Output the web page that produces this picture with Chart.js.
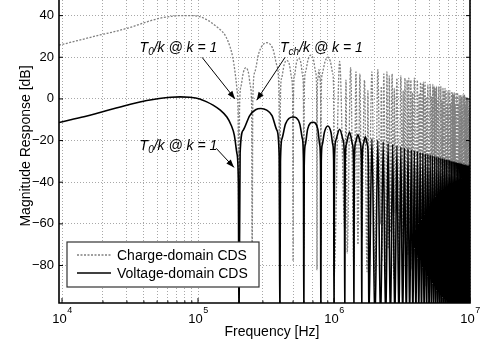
<!DOCTYPE html>
<html>
<head>
<meta charset="utf-8">
<script src="https://cdn.jsdelivr.net/npm/chart.js@4.4.1/dist/chart.umd.min.js"></script>
<style>
  html, body { margin: 0; padding: 0; background: #fff; }
</style>
</head>
<body>
<canvas id="cdsChart" width="481" height="348"></canvas>
<script>
// Frequencies are in kHz, magnitudes in dB

// Voltage-domain CDS: smooth part and the first few lobes
const voltSmoothKHz = [9.5, 12, 15, 19, 25, 33, 42, 52, 63, 74, 87, 103, 115, 129, 145, 163, 175, 185, 193, 198,
    200, 204, 215, 240, 265, 290, 320, 350, 380, 395,
    400, 404, 415, 440, 500, 560, 585, 596,
    600, 604, 615, 640, 700, 760, 785, 796,
    800, 806, 820, 850, 900, 950, 980, 994,
    1000, 1008, 1030, 1100, 1170, 1192,
    1200, 1208, 1230, 1300, 1370, 1392,
    1400, 1410, 1440, 1500, 1560, 1590,
    1600, 1610, 1640, 1700, 1760, 1790];
const voltSmoothDb = [-11.3, -9.8, -8.3, -6.5, -4.4, -2.3, -0.8, 0.2, 0.8, 1.0, 0.8, 0, -1.3, -3, -5.3, -8.7, -12.5, -17.5, -26, -40,
    -110, -26, -15, -8, -5.2, -4.6, -5.4, -8, -15, -27,
    -110, -30, -19, -12, -8.7, -12, -19, -30,
    -110, -32, -22, -14.5, -11.2, -14.5, -22, -32,
    -110, -30, -22, -16, -13, -16, -22, -30,
    -110, -30, -20, -14.6, -20, -30,
    -110, -32, -22, -16, -22, -32,
    -110, -31, -21, -17.2, -21, -31,
    -110, -32, -22, -18.2, -22, -32];

// Voltage-domain CDS: dense lobes (nulls every 200 kHz)
const voltNullKHz = [1800, 2000, 2200, 2400, 2600, 2800, 3000, 3200, 3400, 3600, 3800, 4000, 4200, 4400,
    4600, 4800, 5000, 5200, 5400, 5600, 5800, 6000, 6200, 6400, 6600, 6800, 7000, 7200, 7400, 7600,
    7800, 8000, 8200, 8400, 8600, 8800, 9000, 9200, 9400, 9600, 9800, 10000];
const voltNullDb = -110;
const voltPeakKHz = [1900, 2100, 2300, 2500, 2700, 2900, 3100, 3300, 3500, 3700, 3900, 4100, 4300, 4500,
    4700, 4900, 5100, 5300, 5500, 5700, 5900, 6100, 6300, 6500, 6700, 6900, 7100, 7300, 7500, 7700,
    7900, 8100, 8300, 8500, 8700, 8900, 9100, 9300, 9500, 9700, 9900];
const voltPeakDb = [-19.1, -19.9, -20.6, -21.3, -21.9, -22.5, -23.0, -23.5, -24.0, -24.4,
    -24.8, -25.2, -25.6, -25.9, -26.3, -26.6, -26.9, -27.2, -27.5, -27.8,
    -28.0, -28.3, -28.5, -28.8, -29.0, -29.2, -29.4, -29.7, -29.9, -30.1,
    -30.3, -30.4, -30.6, -30.8, -31.0, -31.2, -31.3, -31.5, -31.7, -31.8, -32.0];

// Charge-domain CDS: smooth part and the first few lobes
const chargeSmoothKHz = [9.5, 13, 19, 25, 33, 42, 52, 63, 74, 87, 103, 120, 135, 150, 160, 172, 180, 187, 193, 197,
    200, 202, 207, 215, 225, 235, 243, 248,
    250, 253, 262, 280, 320, 355, 380, 393,
    400, 404, 412, 430, 450, 470, 488, 496,
    500, 504, 512, 530, 550, 570, 588, 596,
    600, 605, 618, 645, 675, 705, 732, 745,
    750, 753, 762, 775, 788, 797,
    800, 806, 820, 860, 900, 940, 980, 994];
const chargeSmoothDb = [25.8, 28, 30.7, 32.5, 34.7, 37, 38.7, 39.6, 40, 40, 39.5, 37.5, 35, 32.5, 30, 25, 20, 13, 5, -8,
    -75, -5, 6, 12.5, 15, 12.5, 6, -5,
    -80, 0, 13, 22, 27, 24, 16, 5,
    -70, 2, 10, 16.5, 18.5, 16.5, 10, 2,
    -78, 3, 11, 17.5, 19.5, 17.5, 11, 3,
    -72, 4, 13, 19, 21, 19, 13, 4,
    -82, 2, 10, 14, 10, 2,
    -70, 3, 12, 18, 20, 18, 12, 3];

// Charge-domain CDS: dense lobes (nulls at the T0 and Tch harmonics)
const chargeNullKHz = [1000, 1200, 1250, 1400, 1500, 1600, 1750, 1800,
    2000, 2200, 2250, 2400, 2500, 2600, 2750, 2800,
    3000, 3200, 3250, 3400, 3500, 3600, 3750, 3800,
    4000, 4200, 4250, 4400, 4500, 4600, 4750, 4800,
    5000, 5200, 5250, 5400, 5500, 5600, 5750, 5800,
    6000, 6200, 6250, 6400, 6500, 6600, 6750, 6800,
    7000, 7200, 7250, 7400, 7500, 7600, 7750, 7800,
    8000, 8200, 8250, 8400, 8500, 8600, 8750, 8800,
    9000, 9200, 9250, 9400, 9500, 9600, 9750, 9800,
    10000];
const chargeNullDb = [-85, -62, -74, -80, -70, -66, -83, -58,
    -90, -60, -78, -84, -72, -64, -86, -55,
    -80, -66, -70, -88, -75, -60, -82, -62,
    -86, -58, -76, -82, -68, -72, -90, -56,
    -84, -64, -70, -86, -74, -60, -80, -60,
    -88, -62, -78, -84, -70, -66, -86, -58,
    -82, -60, -72, -88, -76, -64, -84, -62,
    -86, -66, -74, -80, -70, -60, -92, -58,
    -90, -62, -78, -86, -72, -66, -94, -60,
    -88];
const chargePeakKHz = [1100, 1225, 1325, 1450, 1550, 1675, 1775, 1900,
    2100, 2225, 2325, 2450, 2550, 2675, 2775, 2900,
    3100, 3225, 3325, 3450, 3550, 3675, 3775, 3900,
    4100, 4225, 4325, 4450, 4550, 4675, 4775, 4900,
    5100, 5225, 5325, 5450, 5550, 5675, 5775, 5900,
    6100, 6225, 6325, 6450, 6550, 6675, 6775, 6900,
    7100, 7225, 7325, 7450, 7550, 7675, 7775, 7900,
    8100, 8225, 8325, 8450, 8550, 8675, 8775, 8900,
    9100, 9225, 9325, 9450, 9550, 9675, 9775, 9900];
const chargePeakDb = [18, 9, 15, 13, 12, 9, 4, 13,
    14, 6, 12, 13, 11, 12, 5, 10,
    11, 4, 10, 9, 10, 9, 3, 10,
    9, 2, 8, 7, 8, 8, 1, 7,
    7, 1, 7, 6, 5, 6, -1, 6,
    6, -1, 5, 4, 5, 4, -2, 4,
    4, -2, 3, 3, 2, 3, -3, 3,
    3, -3, 2, 1, 2, 1, -4, 2,
    2, -4, 1, 0, 1, 0, -5, 0];

// Axis ticks
const xTickExps = [4, 5, 6, 7];
const xMinorMult = [2, 3, 4, 5, 6, 7, 8, 9];
const yTickValues = [-80, -60, -40, -20, 0, 20, 40];

const FONT = '"Liberation Sans", Arial, Helvetica, sans-serif';

// Arrow annotations, anchored in data coordinates (kHz, dB)
const notes = [
    { sub: '0', textKHz: 71.8, textDb: 22.5, align: 'center', tail: [107, 20], tip: [187, 0] },
    { sub: 'ch', textKHz: 401, textDb: 22.5, align: 'left', tail: [437, 20], tip: [270, -0.6] },
    { sub: '0', textKHz: 71.8, textDb: -24.7, align: 'center', tail: [136, -23.7], tip: [184, -32.9] }
];

function toPoints(kHz, db) {
    return kHz.map((f, i) => ({ x: f * 1000, y: db[i] }));
}

// Put nulls and peaks one after another: null, peak, null, peak, ..., null
function lobePoints(nullKHz, nullDb, peakKHz, peakDb) {
    const pts = [];
    nullKHz.forEach((f, i) => {
        const yNull = Array.isArray(nullDb) ? nullDb[i] : nullDb;
        pts.push({ x: f * 1000, y: yNull });
        if (i < peakKHz.length) {
            pts.push({ x: peakKHz[i] * 1000, y: peakDb[i] });
        }
    });
    return pts;
}

const voltPoints = toPoints(voltSmoothKHz, voltSmoothDb)
    .concat(lobePoints(voltNullKHz, voltNullDb, voltPeakKHz, voltPeakDb));
const chargePoints = toPoints(chargeSmoothKHz, chargeSmoothDb)
    .concat(lobePoints(chargeNullKHz, chargeNullDb, chargePeakKHz, chargePeakDb));

function strokeLine(ctx, x1, y1, x2, y2) {
    ctx.beginPath();
    ctx.moveTo(x1, y1);
    ctx.lineTo(x2, y2);
    ctx.stroke();
}

function drawNoteText(ctx, sub, x, y, align) {
    const big = 'italic 14px ' + FONT;
    const small = 'italic 10px ' + FONT;
    const parts = [['T', big, 0], [sub, small, 3], ['/k @ k = 1', big, 0]];
    let total = 0;
    parts.forEach(p => { ctx.font = p[1]; total += ctx.measureText(p[0]).width; });
    let cx = align === 'center' ? x - total / 2 : x;
    ctx.textAlign = 'left';
    ctx.textBaseline = 'alphabetic';
    parts.forEach(p => {
        ctx.font = p[1];
        ctx.fillText(p[0], cx, y + p[2]);
        cx += ctx.measureText(p[0]).width;
    });
}

function drawArrow(ctx, x1, y1, x2, y2) {
    strokeLine(ctx, x1, y1, x2, y2);
    const ang = Math.atan2(y2 - y1, x2 - x1);
    const len = 8, half = 3;
    ctx.beginPath();
    ctx.moveTo(x2, y2);
    ctx.lineTo(x2 - len * Math.cos(ang) + half * Math.sin(ang), y2 - len * Math.sin(ang) - half * Math.cos(ang));
    ctx.lineTo(x2 - len * Math.cos(ang) - half * Math.sin(ang), y2 - len * Math.sin(ang) + half * Math.cos(ang));
    ctx.closePath();
    ctx.fill();
}

// Frame, inward ticks, exponent tick labels, axis titles, legend and arrows
const decorPlugin = {
    id: 'decor',
    afterDatasetsDraw(chart) {
        const { ctx, chartArea: a, scales } = chart;
        const xs = scales.x, ys = scales.y;
        ctx.save();
        ctx.strokeStyle = '#000';
        ctx.fillStyle = '#000';

        // axes box (its top edge is outside the picture)
        ctx.lineWidth = 1.6;
        ctx.beginPath();
        ctx.moveTo(a.left, a.top);
        ctx.lineTo(a.left, a.bottom);
        ctx.lineTo(a.right, a.bottom);
        ctx.lineTo(a.right, a.top);
        ctx.stroke();

        // ticks pointing inward
        ctx.lineWidth = 1;
        yTickValues.forEach(v => {
            const y = ys.getPixelForValue(v);
            strokeLine(ctx, a.left, y, a.left + 4, y);
            strokeLine(ctx, a.right, y, a.right - 4, y);
        });
        xTickExps.forEach(e => {
            const x = xs.getPixelForValue(Math.pow(10, e));
            strokeLine(ctx, x, a.bottom, x, a.bottom - 5);
            if (e < 7) {
                xMinorMult.forEach(m => {
                    const xm = xs.getPixelForValue(m * Math.pow(10, e));
                    strokeLine(ctx, xm, a.bottom, xm, a.bottom - 2.5);
                });
            }
        });

        // x tick labels as 10 with a raised exponent
        ctx.textAlign = 'left';
        ctx.textBaseline = 'alphabetic';
        xTickExps.forEach(e => {
            const x = xs.getPixelForValue(Math.pow(10, e));
            ctx.font = '13px ' + FONT;
            const wBase = ctx.measureText('10').width;
            ctx.font = '9px ' + FONT;
            const wExp = ctx.measureText(String(e)).width;
            const start = x - (wBase + wExp) / 2;
            ctx.font = '13px ' + FONT;
            ctx.fillText('10', start, a.bottom + 20);
            ctx.font = '9px ' + FONT;
            ctx.fillText(String(e), start + wBase + 0.5, a.bottom + 10);
        });

        // axis titles
        ctx.font = '14px ' + FONT;
        ctx.textAlign = 'center';
        ctx.textBaseline = 'middle';
        ctx.fillText('Frequency [Hz]', a.left + 213, a.bottom + 29);
        ctx.save();
        ctx.translate(26, a.bottom - 157);
        ctx.rotate(-Math.PI / 2);
        ctx.fillText('Magnitude Response [dB]', 0, 0);
        ctx.restore();

        // arrows with labels
        ctx.lineWidth = 1;
        notes.forEach(n => {
            const tx = xs.getPixelForValue(n.textKHz * 1000);
            const ty = ys.getPixelForValue(n.textDb);
            drawNoteText(ctx, n.sub, tx, ty, n.align);
            drawArrow(ctx,
                xs.getPixelForValue(n.tail[0] * 1000), ys.getPixelForValue(n.tail[1]),
                xs.getPixelForValue(n.tip[0] * 1000), ys.getPixelForValue(n.tip[1]));
        });

        // legend box in the lower left corner
        const bx = a.left + 8, by = a.bottom - 61, bw = 192, bh = 45;
        ctx.fillStyle = '#fff';
        ctx.fillRect(bx, by, bw, bh);
        ctx.strokeStyle = '#333';
        ctx.lineWidth = 1.2;
        ctx.strokeRect(bx, by, bw, bh);
        ctx.font = '14px ' + FONT;
        ctx.textAlign = 'left';
        ctx.textBaseline = 'middle';
        chart.data.datasets.forEach((ds, i) => {
            const row = ds.legendRow;
            const ly = by + 13 + row * 18;
            ctx.strokeStyle = ds.borderColor;
            ctx.lineWidth = ds.borderWidth;
            ctx.setLineDash(ds.borderDash || []);
            strokeLine(ctx, bx + 10, ly, bx + 44, ly);
            ctx.setLineDash([]);
            ctx.fillStyle = '#000';
            ctx.fillText(ds.label, bx + 50, ly + 1);
        });

        ctx.restore();
    }
};

const ctx = document.getElementById('cdsChart').getContext('2d');
const cdsChart = new Chart(ctx, {
    type: 'line',
    data: {
        datasets: [
            {
                label: 'Voltage-domain CDS',
                data: voltPoints,
                borderColor: '#000000',
                borderWidth: 1.6,
                pointRadius: 0,
                cubicInterpolationMode: 'monotone',
                order: 0,
                legendRow: 1
            },
            {
                label: 'Charge-domain CDS',
                data: chargePoints,
                borderColor: '#808080',
                borderWidth: 1.3,
                borderDash: [2, 1.5],
                pointRadius: 0,
                cubicInterpolationMode: 'monotone',
                order: 1,
                legendRow: 0
            }
        ]
    },
    options: {
        responsive: false,
        animation: false,
        events: [],
        layout: { padding: { top: 0, right: 11, left: 0, bottom: 0 } },
        plugins: {
            legend: { display: false },
            tooltip: { enabled: false }
        },
        scales: {
            x: {
                type: 'logarithmic',
                min: 9500,
                max: 1e7,
                afterBuildTicks: scale => {
                    const vals = [];
                    xTickExps.forEach(e => {
                        vals.push(Math.pow(10, e));
                        if (e < 7) xMinorMult.forEach(m => vals.push(m * Math.pow(10, e)));
                    });
                    scale.ticks = vals.map(v => ({ value: v }));
                },
                afterFit: scale => {
                    scale.height = 45;
                    scale.paddingLeft = 0;
                    scale.paddingRight = 0;
                },
                ticks: { display: false },
                grid: { color: '#a8a8a8', lineWidth: 1, drawTicks: false },
                border: { display: false, dash: [1, 2] }
            },
            y: {
                min: -98,
                max: 47.5,
                afterBuildTicks: scale => {
                    scale.ticks = yTickValues.map(v => ({ value: v }));
                },
                afterFit: scale => {
                    scale.width = 59;
                    scale.paddingTop = 0;
                    scale.paddingBottom = 0;
                },
                ticks: {
                    color: '#000',
                    padding: 5,
                    font: { family: FONT, size: 13 },
                    callback: v => String(v).replace('-', '\u2212')
                },
                grid: { color: '#a8a8a8', lineWidth: 1, drawTicks: false },
                border: { display: false, dash: [1, 2] }
            }
        }
    },
    plugins: [decorPlugin]
});
</script>
</body>
</html>
